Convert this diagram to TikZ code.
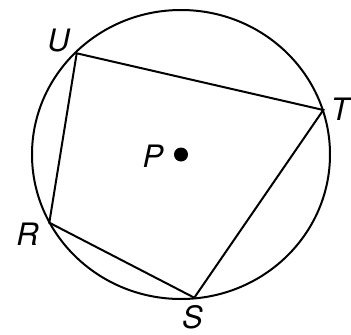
\documentclass[tikz,border=0pt]{standalone}
\usepackage{fontspec}
\setmainfont{TeX Gyre Heros}
\tikzset{ptlabel/.style={font=\itshape\fontsize{31}{33}\selectfont, inner sep=0pt}}
\begin{document}
\begin{tikzpicture}[x=1bp,y=-1bp,line width=2bp]
\useasboundingbox (0,0) rectangle (351,335);
% circle with centre P
\coordinate (P) at (181,154.5);
\draw (P) ellipse [x radius=149, y radius=144.5];
\fill (P) circle (7);

% inscribed quadrilateral
\coordinate (U) at (76.7,53.3);
\coordinate (T) at (323.3,110);
\coordinate (S) at (194.3,297.7);
\coordinate (R) at (49.3,222.7);
\draw[line join=miter] (U) -- (T) -- (S) -- (R) -- cycle;

% labels
\node[ptlabel] (lU) at (58.5,40.5) {U};
\node[ptlabel] (lT) at (340,109.5) {T};
\node[ptlabel] (lS) at (192.5,317) {S};
\node[ptlabel] (lR) at (27.5,234.5) {R};
\node[ptlabel] (lP) at (153,156) {P};
\end{tikzpicture}
\end{document}
